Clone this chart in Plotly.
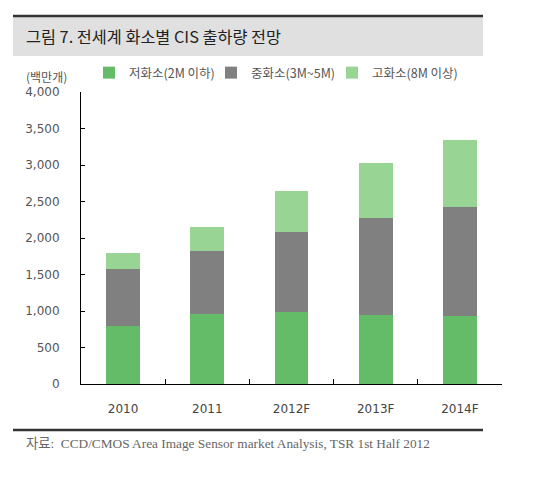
import plotly.graph_objects as go

categories = ["2010", "2011", "2012F", "2013F", "2014F"]
low_res = [800, 955, 980, 950, 930]
mid_res = [775, 867, 1100, 1320, 1500]
high_res = [225, 328, 566, 763, 913]
series_names = ["저화소(2M 이하)", "중화소(3M~5M)", "고화소(8M 이상)"]
series_colors = ["#64BC68", "#808080", "#98D494"]

W, H = 551, 487
L, R, T, B = 81, 49, 92, 103
pw, ph = W - L - R, H - T - B

def px_x(x):
    return (x - L) / pw

def px_y(y):
    return (H - B - y) / ph

font_kr = "Noto Sans CJK KR, DejaVu Sans, sans-serif"
legend_ids = ["legend", "legend2", "legend3"]
legend_px = [89, 211, 332]

fig = go.Figure()
for name, vals, col, lg in zip(series_names, [low_res, mid_res, high_res], series_colors, legend_ids):
    fig.add_trace(go.Bar(x=categories, y=vals, name=name, marker=dict(color=col, line=dict(width=0)),
                         width=0.4, legend=lg))

legend_common = dict(orientation="h", yanchor="middle", xanchor="left",
                     font=dict(family=font_kr, size=12.5, color="#555555"),
                     itemwidth=30, bgcolor="rgba(0,0,0,0)")

fig.update_layout(
    barmode="stack",
    width=W, height=H,
    margin=dict(l=L, r=R, t=T, b=B, autoexpand=False),
    paper_bgcolor="white", plot_bgcolor="white",
    showlegend=True,
    legend=dict(x=px_x(legend_px[0]), y=px_y(73), **legend_common),
    legend2=dict(x=px_x(legend_px[1]), y=px_y(73), **legend_common),
    legend3=dict(x=px_x(legend_px[2]), y=px_y(73), **legend_common),
    xaxis=dict(type="category", showline=True, linecolor="black", linewidth=1,
               ticks="inside", tickson="boundaries", ticklen=5, tickcolor="black",
               showgrid=False, automargin=False,
               tickfont=dict(family="DejaVu Sans", size=12, color="#444444"),
               ticklabelstandoff=14),
    yaxis=dict(range=[0, 4000], dtick=500, tickformat=",", showline=True, linecolor="black",
               linewidth=1, ticks="inside", ticklen=4, tickcolor="black", showgrid=False,
               zeroline=False, automargin=False,
               tickfont=dict(family="DejaVu Sans", size=12, color="#555555"),
               ticklabelstandoff=18),
)

# title band
fig.add_shape(type="rect", xref="paper", yref="paper", x0=px_x(13), x1=px_x(483),
              y0=px_y(56), y1=px_y(17), fillcolor="#E0E0E0", line=dict(width=0), layer="below")
fig.add_shape(type="line", xref="paper", yref="paper", x0=px_x(13), x1=px_x(483),
              y0=px_y(16), y1=px_y(16), line=dict(color="#333333", width=2.5))
fig.add_shape(type="line", xref="paper", yref="paper", x0=px_x(13), x1=px_x(483),
              y0=px_y(430), y1=px_y(430), line=dict(color="#333333", width=2.5))

fig.add_annotation(text="그림 7. 전세계 화소별 CIS 출하량 전망", xref="paper", yref="paper",
                   x=px_x(24), y=px_y(36), xanchor="left", yanchor="middle", showarrow=False,
                   font=dict(family=font_kr, size=16.3, color="#222222"))
fig.add_annotation(text="(백만개)", xref="paper", yref="paper",
                   x=px_x(24), y=px_y(76), xanchor="left", yanchor="middle", showarrow=False,
                   font=dict(family=font_kr, size=12, color="#555555"))
fig.add_annotation(text="자료:  CCD/CMOS Area Image Sensor market Analysis, TSR 1st Half 2012",
                   xref="paper", yref="paper", x=px_x(24), y=px_y(443), xanchor="left",
                   yanchor="middle", showarrow=False,
                   font=dict(family="Liberation Serif, Noto Sans CJK KR, serif", size=13.3, color="#666666"))

fig.write_html("out.html", config={"displayModeBar": False},
               post_script="document.body.style.margin='0px';")
